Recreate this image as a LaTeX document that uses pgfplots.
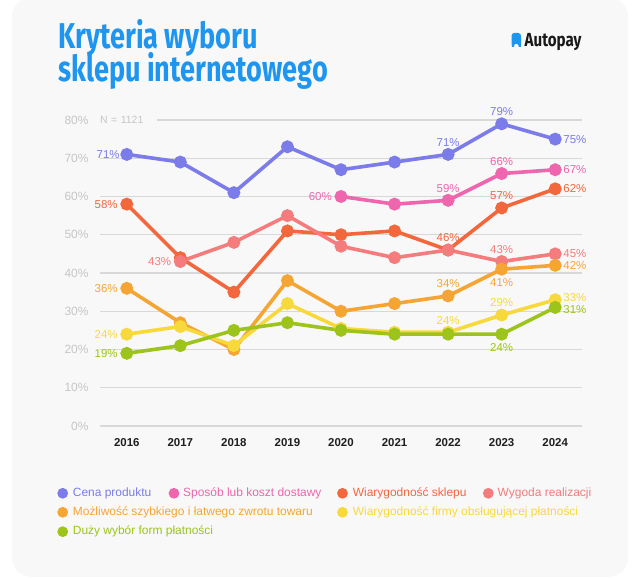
\documentclass[border=0pt]{standalone}
\usepackage{fontspec}
\setmainfont{Liberation Sans}
\newfontfamily\titlefont{Fira Sans}
\usepackage{pgfplots}
\pgfplotsset{compat=1.18}
\usetikzlibrary{calc}

\definecolor{cena}{HTML}{7B7BEA}
\definecolor{sposob}{HTML}{EE66AE}
\definecolor{wiar}{HTML}{F2673C}
\definecolor{wyg}{HTML}{F47C7C}
\definecolor{mozl}{HTML}{F5A534}
\definecolor{firmy}{HTML}{F8D93C}
\definecolor{duzy}{HTML}{9CC41B}
\definecolor{bg}{HTML}{F8F8F8}
\definecolor{gridc}{HTML}{D8D8D8}
\definecolor{ticklab}{HTML}{C6C6C6}
\definecolor{titleblue}{HTML}{1E96F0}
\tikzset{lab/.style={font=\fontsize{11.5}{13}\selectfont, inner sep=0pt},
  legtxt/.style={anchor=west, inner sep=0pt, font=\fontsize{12}{14}\selectfont}}

\begin{document}
\begin{tikzpicture}[x=1bp,y=1bp]
\path[use as bounding box, fill=white] (0,0) rectangle (640,579);
\fill[bg, rounded corners=20bp] (12,2) rectangle (628,582);

% title
\node[anchor=base west, inner sep=0pt, text=titleblue, font=\titlefont\bfseries\fontsize{36}{36}\selectfont] at (58,530) {\scalebox{0.755}[1]{Kryteria wyboru}};
\node[anchor=base west, inner sep=0pt, text=titleblue, font=\titlefont\bfseries\fontsize{36}{36}\selectfont] at (58,497) {\scalebox{0.755}[1]{sklepu internetowego}};

% logo
\fill[titleblue, rounded corners=2.8bp] (511.5,532) -- (511.5,546) -- (521,546) -- (521,532) -- (518.6,532) -- (518.6,535.5) -- (513.9,535.5) -- (513.9,532) -- cycle;
\fill[titleblue] (511.5,532) rectangle (513.9,538);
\fill[titleblue] (518.6,532) rectangle (521,538);
\node[anchor=base west, inner sep=0pt, text=black!90, font=\titlefont\bfseries\fontsize{19}{19}\selectfont] at (524.5,532) {\scalebox{0.8}[1]{Autopay}};

\begin{axis}[
  at={(100bp,153bp)}, anchor=south west,
  scale only axis, width=482bp, height=306bp,
  xmin=2015.5, xmax=2024.5, ymin=0, ymax=80,
  clip=false,
  axis line style={draw=none},
  major tick length=0pt,
  ymajorgrids, grid style={gridc, line width=1.3bp},
  ytick={0,10,...,80},
  xtick={2016,2017,...,2024},
  /pgf/number format/assume math mode=true,
  xticklabel style={/pgf/number format/1000 sep={}, font=\bfseries\fontsize{11.5}{13}\selectfont, text=black!88, yshift=-9bp},
  yticklabel={\pgfmathprintnumber{\tick}\%},
  yticklabel style={font=\fontsize{12}{14}\selectfont, text=ticklab, anchor=east, xshift=-8bp},
  every axis plot/.append style={line width=3.6bp, mark=*, mark size=4.6bp, mark options={draw=none}},
]
% N label covering part of top gridline
\node[anchor=west, fill=bg, inner sep=0pt, minimum height=6bp, minimum width=57bp, text width=57bp, align=left, font=\fontsize{10.5}{12}\selectfont, text=ticklab] at (axis cs:2015.5,80) {N = 1121};

\addplot[cena, mark options={fill=cena}] coordinates {(2016,71) (2017,69) (2018,61) (2019,73) (2020,67) (2021,69) (2022,71) (2023,79) (2024,75)};
\addplot[sposob, mark options={fill=sposob}] coordinates {(2020,60) (2021,58) (2022,59) (2023,66) (2024,67)};
\addplot[wiar, mark options={fill=wiar}] coordinates {(2016,58) (2017,44) (2018,35) (2019,51) (2020,50) (2021,51) (2022,46) (2023,57) (2024,62)};
\addplot[wyg, mark options={fill=wyg}] coordinates {(2017,43) (2018,48) (2019,55) (2020,47) (2021,44) (2022,46) (2023,43) (2024,45)};
\addplot[mozl, mark options={fill=mozl}] coordinates {(2016,36) (2017,27) (2018,20) (2019,38) (2020,30) (2021,32) (2022,34) (2023,41) (2024,42)};
\addplot[firmy, mark options={fill=firmy}] coordinates {(2016,24) (2017,26) (2018,21) (2019,32) (2020,25.5) (2021,24.5) (2022,24.5) (2023,29) (2024,33)};
\addplot[duzy, mark options={fill=duzy}] coordinates {(2016,19) (2017,21) (2018,25) (2019,27) (2020,25) (2021,24) (2022,24) (2023,24) (2024,31)};

% labels
\node[lab, text=cena, anchor=east, xshift=-7bp] at (axis cs:2016,71) {71\%};
\node[lab, text=cena, anchor=south, yshift=8bp] at (axis cs:2022,71) {71\%};
\node[lab, text=cena, anchor=south, yshift=8bp] at (axis cs:2023,79) {79\%};
\node[lab, text=cena, anchor=west, xshift=8bp] at (axis cs:2024,75) {75\%};

\node[lab, text=sposob, anchor=east, xshift=-9bp] at (axis cs:2020,60) {60\%};
\node[lab, text=sposob, anchor=south, yshift=8bp] at (axis cs:2022,59) {59\%};
\node[lab, text=sposob, anchor=south, yshift=8bp] at (axis cs:2023,66) {66\%};
\node[lab, text=sposob, anchor=west, xshift=8bp] at (axis cs:2024,67) {67\%};

\node[lab, text=wiar, anchor=east, xshift=-9bp] at (axis cs:2016,58) {58\%};
\node[lab, text=wiar, anchor=south, yshift=8bp] at (axis cs:2022,46) {46\%};
\node[lab, text=wiar, anchor=south, yshift=8bp] at (axis cs:2023,57) {57\%};
\node[lab, text=wiar, anchor=west, xshift=8bp] at (axis cs:2024,62) {62\%};

\node[lab, text=wyg, anchor=east, xshift=-9bp] at (axis cs:2017,43) {43\%};
\node[lab, text=wyg, anchor=south, yshift=8bp] at (axis cs:2023,43) {43\%};
\node[lab, text=wyg, anchor=west, xshift=8bp] at (axis cs:2024,45) {45\%};

\node[lab, text=mozl, anchor=east, xshift=-9bp] at (axis cs:2016,36) {36\%};
\node[lab, text=mozl, anchor=south, yshift=8bp] at (axis cs:2022,34) {34\%};
\node[lab, text=mozl, anchor=north, yshift=-9bp] at (axis cs:2023,41) {41\%};
\node[lab, text=mozl, anchor=west, xshift=8bp] at (axis cs:2024,42) {42\%};

\node[lab, text=firmy, anchor=east, xshift=-9bp] at (axis cs:2016,24) {24\%};
\node[lab, text=firmy, anchor=south, yshift=8bp] at (axis cs:2022,24.5) {24\%};
\node[lab, text=firmy, anchor=south, yshift=8bp] at (axis cs:2023,29) {29\%};
\node[lab, text=firmy, anchor=west, xshift=8bp, yshift=2.5bp] at (axis cs:2024,33) {33\%};

\node[lab, text=duzy, anchor=east, xshift=-9bp] at (axis cs:2016,19) {19\%};
\node[lab, text=duzy, anchor=north, yshift=-9bp] at (axis cs:2023,24) {24\%};
\node[lab, text=duzy, anchor=west, xshift=8bp, yshift=-2.5bp] at (axis cs:2024,31) {31\%};
\end{axis}

% legend
\fill[cena] (62.7,85.7) circle (5.4);
\node[legtxt, text=cena] at (72.7,85.7) {Cena produktu};
\fill[sposob] (174,85.7) circle (5.4);
\node[legtxt, text=sposob] at (183,85.7) {Sposób lub koszt dostawy};
\fill[wiar] (342.5,85.7) circle (5.4);
\node[legtxt, text=wiar] at (352.7,85.7) {Wiarygodność sklepu};
\fill[wyg] (488.3,85.7) circle (5.4);
\node[legtxt, text=wyg] at (497.5,85.7) {Wygoda realizacji};

\fill[mozl] (62.7,66.7) circle (5.4);
\node[legtxt, text=mozl] at (72.7,66.7) {Możliwość szybkiego i łatwego zwrotu towaru};
\fill[firmy] (342.5,66.7) circle (5.4);
\node[legtxt, text=firmy] at (352.7,66.7) {Wiarygodność firmy obsługującej płatności};

\fill[duzy] (62.7,47.3) circle (5.4);
\node[legtxt, text=duzy] at (72.7,47.3) {Duży wybór form płatności};
\end{tikzpicture}
\end{document}
